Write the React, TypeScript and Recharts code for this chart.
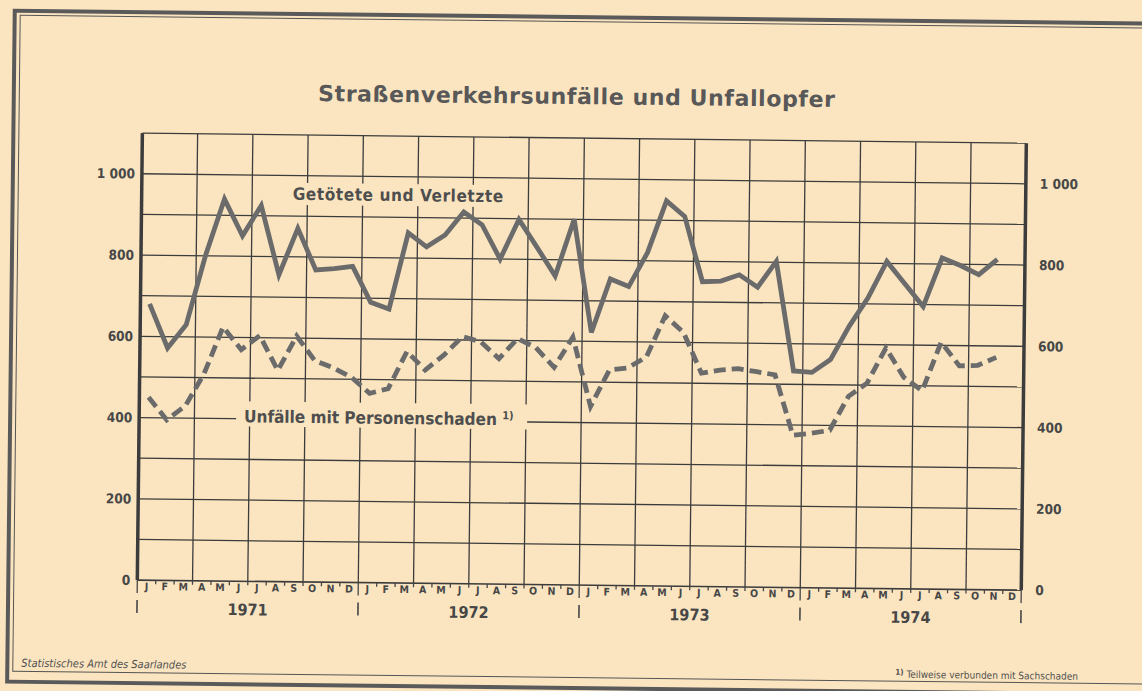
import { LineChart, Line, XAxis, YAxis, ReferenceLine } from "recharts";

// Monatswerte Januar 1971 bis November 1974 (Dezember 1974 fehlt)
const monthLetters = ["J", "F", "M", "A", "M", "J", "J", "A", "S", "O", "N", "D"];
const years = ["1971", "1972", "1973", "1974"];

const getoetete1971 = [680, 572, 630, 800, 940, 850, 925, 755, 870, 768, 772, 778];
const getoetete1972 = [690, 674, 862, 828, 858, 915, 884, 800, 898, 830, 760, 900];
const getoetete1973 = [622, 754, 736, 820, 948, 910, 750, 752, 768, 738, 802, 533];
const getoetete1974 = [530, 562, 645, 715, 805, 750, 695, 815, 797, 775, 813, null];

const unfaelle1971 = [450, 395, 430, 510, 625, 570, 605, 520, 605, 545, 528, 505];
const unfaelle1972 = [466, 478, 570, 525, 562, 608, 596, 555, 605, 583, 535, 610];
const unfaelle1973 = [440, 530, 536, 563, 665, 625, 525, 533, 537, 530, 523, 375];
const unfaelle1974 = [380, 388, 472, 505, 592, 520, 488, 608, 550, 552, 572, null];

const yTicks = [0, 200, 400, 600, 800, 1000];
const yGrid = [0, 100, 200, 300, 400, 500, 600, 700, 800, 900, 1000, 1100];
const quarterLines = [0, 3, 6, 9, 12, 15, 18, 21, 24, 27, 30, 33, 36, 39, 42, 45, 48];

const getoetete = [...getoetete1971, ...getoetete1972, ...getoetete1973, ...getoetete1974];
const unfaelle = [...unfaelle1971, ...unfaelle1972, ...unfaelle1973, ...unfaelle1974];

const data = getoetete.map((g, i) => ({
  pos: i + 0.5,
  month: monthLetters[i % 12],
  g,
  u: unfaelle[i],
}));
const monthTicks = data.map((d) => d.pos);
const yearTicks = [0, 6, 12, 18, 24, 30, 36, 42, 48];

const PAPER = "#fbe5c0";
const INK = "#474747";
const SERIES = "#6b6b6b";
const COND = "'DejaVu Sans Condensed', 'DejaVu Sans', sans-serif";

const W = 1142;
const H = 691;
const PLOT_W = 884;

const MonthTick = (props: any) => {
  const { x, y, payload } = props;
  const i = Math.floor(payload.value);
  const half = PLOT_W / 48 / 2;
  return (
    <g>
      <line x1={x - half} x2={x - half} y1={y} y2={y + (i % 12 === 0 ? 13 : 4)} stroke={INK} strokeWidth={1.3} />
      {i === 47 && <line x1={x + half} x2={x + half} y1={y} y2={y + 13} stroke={INK} strokeWidth={1.3} />}
      <text x={x} y={y + 10} textAnchor="middle" fontSize={10.5} fontWeight="bold" fontFamily={COND} fill={INK}>
        {monthLetters[i % 12]}
      </text>
    </g>
  );
};

const YearTick = (props: any) => {
  const { x, y, payload } = props;
  const v = payload.value;
  if (v % 12 === 0) {
    return <line x1={x} x2={x} y1={y + 6} y2={y + 19} stroke={INK} strokeWidth={1.6} />;
  }
  return (
    <text x={x} y={y + 20} textAnchor="middle" fontSize={16} fontWeight="bold" fontFamily={COND} fill={INK}>
      {years[(v - 6) / 12]}
    </text>
  );
};

const fmt = (v: number) => (v === 1000 ? "1 000" : String(v));

export default function App() {
  return (
    <div style={{ position: "absolute", left: 0, top: 0, width: W, height: H, background: PAPER, overflow: "hidden" }}>
      <div
        style={{
          position: "absolute",
          left: 0,
          top: 0,
          width: W,
          height: H,
          transform: "rotate(0.65deg)",
          transformOrigin: "571px 345px",
        }}
      >
        {/* Rahmen */}
        <div style={{ position: "absolute", left: 9, top: 15, width: 1160, height: 667, border: "4px solid #5a5a5a" }} />
        <div style={{ position: "absolute", left: 16, top: 21, width: 1150, height: 655, border: "1.5px solid #555" }} />

        <div
          style={{
            position: "absolute",
            left: 274,
            width: 600,
            top: 84,
            textAlign: "center",
            fontFamily: "'DejaVu Sans', sans-serif",
            fontWeight: "bold",
            fontSize: 22,
            color: "#585858",
            letterSpacing: 0.6,
          }}
        >
          Straßenverkehrsunfälle und Unfallopfer
        </div>

        <div style={{ position: "absolute", left: 0, top: 0 }}>
          <LineChart width={W} height={H} data={data} margin={{ top: 138, right: 58, bottom: 62, left: 100 }}>
            <XAxis
              xAxisId="m"
              type="number"
              dataKey="pos"
              domain={[0, 48]}
              ticks={monthTicks}
              interval={0}
              height={14}
              axisLine={false}
              tickLine={false}
              tickSize={0}
              tickMargin={0}
              tick={<MonthTick />}
            />
            <XAxis
              xAxisId="y"
              type="number"
              dataKey="pos"
              domain={[0, 48]}
              ticks={yearTicks}
              interval={0}
              height={30}
              axisLine={false}
              tickLine={false}
              tickSize={0}
              tickMargin={0}
              tick={<YearTick />}
            />
            <YAxis
              yAxisId="l"
              domain={[0, 1100]}
              ticks={yTicks}
              interval={0}
              width={40}
              axisLine={false}
              tickLine={false}
              tickSize={0}
              tickMargin={7}
              tickFormatter={fmt}
              tick={{ fill: INK, fontSize: 13.5, fontWeight: "bold", fontFamily: COND }}
            />
            <YAxis
              yAxisId="r"
              orientation="right"
              domain={[0, 1100]}
              ticks={yTicks}
              interval={0}
              width={60}
              axisLine={false}
              tickLine={false}
              tickSize={0}
              tickMargin={14}
              tickFormatter={fmt}
              tick={{ fill: INK, fontSize: 13.5, fontWeight: "bold", fontFamily: COND, textAnchor: "start" }}
            />
            {yGrid.map((v) => (
              <ReferenceLine key={"h" + v} yAxisId="l" xAxisId="m" y={v} stroke="#3c3c3c" strokeWidth={v === 0 ? 1.6 : 1.3} />
            ))}
            {quarterLines.map((v) => (
              <ReferenceLine
                key={"v" + v}
                yAxisId="l"
                xAxisId="m"
                x={v}
                stroke="#3c3c3c"
                strokeWidth={v === 0 || v === 48 ? 3.5 : 1.3}
              />
            ))}
            <Line
              xAxisId="m"
              yAxisId="l"
              dataKey="g"
              stroke={SERIES}
              strokeWidth={4.8}
              dot={false}
              isAnimationActive={false}
            />
            <Line
              xAxisId="m"
              yAxisId="r"
              dataKey="u"
              stroke={SERIES}
              strokeWidth={4.8}
              strokeDasharray="12 6"
              dot={false}
              isAnimationActive={false}
            />
          </LineChart>
        </div>

        <div
          style={{
            position: "absolute",
            left: 286,
            top: 186,
            padding: "0 5px",
            background: PAPER,
            fontFamily: COND,
            fontWeight: "bold",
            fontSize: 17,
            letterSpacing: 0.6,
            color: "#4e4e4e",
            lineHeight: "22px",
            whiteSpace: "nowrap",
          }}
        >
          Getötete und Verletzte
        </div>

        <div
          style={{
            position: "absolute",
            left: 237,
            top: 405,
            width: 291,
            height: 25,
            boxSizing: "border-box",
            padding: "1px 0 0 8px",
            background: PAPER,
            fontFamily: COND,
            fontWeight: "bold",
            fontSize: 17,
            color: "#4e4e4e",
            lineHeight: "22px",
            whiteSpace: "nowrap",
          }}
        >
          Unfälle mit Personenschaden <span style={{ fontSize: 11, verticalAlign: 6 }}>1)</span>
        </div>

        <div
          style={{
            position: "absolute",
            left: 25,
            top: 663,
            fontFamily: COND,
            fontStyle: "italic",
            fontSize: 11,
            color: "#505050",
            whiteSpace: "nowrap",
          }}
        >
          Statistisches Amt des Saarlandes
        </div>
        <div
          style={{
            position: "absolute",
            left: 899,
            top: 664,
            fontFamily: COND,
            fontSize: 10,
            color: "#505050",
            whiteSpace: "nowrap",
          }}
        >
          <span style={{ fontSize: 8, verticalAlign: 3, fontWeight: "bold" }}>1)</span> Teilweise verbunden mit Sachschaden
        </div>
      </div>
    </div>
  );
}
